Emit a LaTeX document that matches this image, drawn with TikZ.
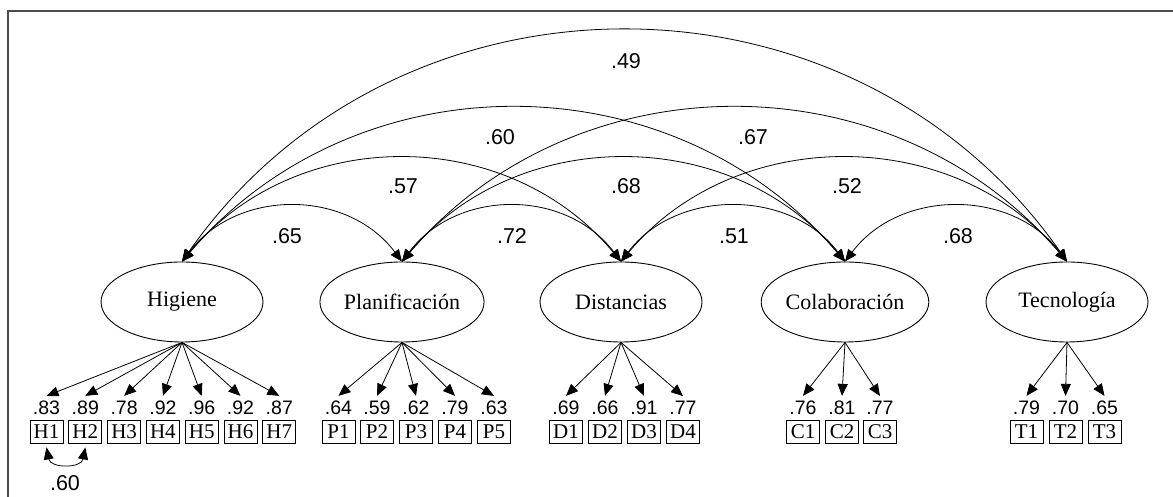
\documentclass[tikz,border=0pt]{standalone}
\usepackage{fontspec}
\setmainfont{Liberation Serif}
\newfontfamily\numfont{Liberation Sans}
\usetikzlibrary{arrows.meta,shapes.geometric}
\begin{document}
\begin{tikzpicture}[x=1pt,y=1pt,
  lat/.style={draw, ellipse, minimum width=162pt, minimum height=80pt, inner sep=0pt, font=\fontsize{22}{24}\selectfont, line width=0.9pt},
  ind/.style={draw, rectangle, minimum width=33pt, minimum height=23pt, inner sep=0pt, font=\fontsize{21}{22}\selectfont, line width=0.9pt},
  val/.style={font=\numfont\fontsize{19.5}{20}\selectfont, inner xsep=1pt, inner ysep=5pt},
  cor/.style={font=\numfont\fontsize{21.5}{22}\selectfont},
  arr/.style={-{Triangle[length=12pt,width=10pt]}, line width=0.8pt},
  dbl/.style={{Triangle[length=12pt,width=10pt]}-{Triangle[length=12pt,width=10pt]}, line width=0.8pt},
  frameline/.style={draw=black!70, line width=2pt}
]
\useasboundingbox (0,0) rectangle (1173,497);
\draw[frameline] (8,0) -- (8,486) -- (1173,486);

% latent factors
\node[lat] (H) at (182,195) {Higiene};
\node[lat] (P) at (402,195) {Planificación};
\node[lat] (D) at (621,195) {Distancias};
\node[lat] (C) at (845,195) {Colaboración};
\node[lat] (T) at (1067,195) {Tecnología};

% indicators
\foreach \i/\x/\v in {1/46.5/.83, 2/85.3/.89, 3/124.1/.78, 4/162.9/.92, 5/201.7/.96, 6/240.5/.92, 7/279.3/.87} {
  \node[ind] (H\i) at (\x,65.5) {H\i};
  \node[val] (vH\i) at (\x,89) {\v};
  \draw[arr] (H.south) -- (vH\i.north);
}
\foreach \i/\x/\v in {1/338.5/.64, 2/377/.59, 3/416/.62, 4/455/.79, 5/494/.63} {
  \node[ind] (P\i) at (\x,65.5) {P\i};
  \node[val] (vP\i) at (\x,89) {\v};
  \draw[arr] (P.south) -- (vP\i.north);
}
\foreach \i/\x/\v in {1/566/.69, 2/605/.66, 3/644/.91, 4/683/.77} {
  \node[ind] (D\i) at (\x,65.5) {D\i};
  \node[val] (vD\i) at (\x,89) {\v};
  \draw[arr] (D.south) -- (vD\i.north);
}
\foreach \i/\x/\v in {1/803/.76, 2/842/.81, 3/880/.77} {
  \node[ind] (C\i) at (\x,65.5) {C\i};
  \node[val] (vC\i) at (\x,89) {\v};
  \draw[arr] (C.south) -- (vC\i.north);
}
\foreach \i/\x/\v in {1/1026.5/.79, 2/1065.5/.70, 3/1104.5/.65} {
  \node[ind] (T\i) at (\x,65.5) {T\i};
  \node[val] (vT\i) at (\x,89) {\v};
  \draw[arr] (T.south) -- (vT\i.north);
}

% error covariance H1-H2
\draw[dbl] ([yshift=-4pt]H1.south) .. controls +(4,-21) and +(-4,-21) .. ([yshift=-4pt]H2.south);
\node[cor] (e12) at (65,14) {.60};

% factor correlations
\draw[dbl] (H.north) .. controls +(55,73) and +(-55,73) .. (P.north);
\draw[dbl] (P.north) .. controls +(55,73) and +(-55,73) .. (D.north);
\draw[dbl] (D.north) .. controls +(55,73) and +(-55,73) .. (C.north);
\draw[dbl] (C.north) .. controls +(55,73) and +(-55,73) .. (T.north);
\draw[dbl] (H.north) .. controls +(114,137) and +(-114,137) .. (D.north);
\draw[dbl] (P.north) .. controls +(114,137) and +(-114,137) .. (C.north);
\draw[dbl] (D.north) .. controls +(114,137) and +(-114,137) .. (T.north);
\draw[dbl] (H.north) .. controls +(174,204) and +(-174,204) .. (C.north);
\draw[dbl] (P.north) .. controls +(174,204) and +(-174,204) .. (T.north);
\draw[dbl] (H.north) .. controls +(215,307) and +(-215,307) .. (T.north);

\node[cor] (rHP) at (287,261) {.65};
\node[cor] (rPD) at (512,261) {.72};
\node[cor] (rDC) at (734,261) {.51};
\node[cor] (rCT) at (958,261) {.68};
\node[cor] (rHD) at (403,311) {.57};
\node[cor] (rPC) at (626,311) {.68};
\node[cor] (rDT) at (847,311) {.52};
\node[cor] (rHC) at (500,360) {.60};
\node[cor] (rPT) at (753,360) {.67};
\node[cor] (rHT) at (626,436) {.49};
\end{tikzpicture}
\end{document}
